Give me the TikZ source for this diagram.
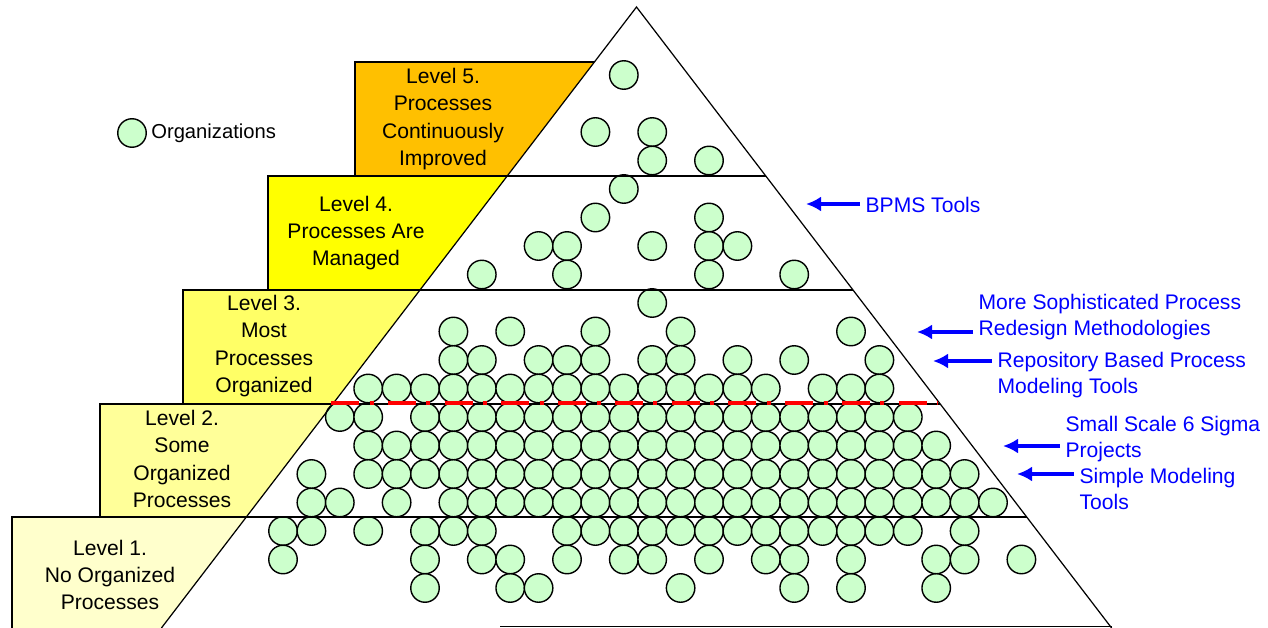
\documentclass[tikz,border=0pt]{standalone}
\usepackage{fontspec}
\setmainfont{Liberation Sans}
\usetikzlibrary{arrows.meta,positioning}
\definecolor{lvlfive}{HTML}{FFC000}
\definecolor{lvlfour}{HTML}{FFFF00}
\definecolor{lvlthree}{HTML}{FFFF66}
\definecolor{lvltwo}{HTML}{FFFF99}
\definecolor{lvlone}{HTML}{FFFFCC}
\definecolor{orgfill}{HTML}{CCFFCC}
\definecolor{toolblue}{HTML}{0000FF}
\definecolor{cutred}{HTML}{FF0000}

\begin{document}
\begin{tikzpicture}[
  x=0.02cm,
  y=-0.02cm,
  leveltext/.style={align=center, inner sep=0pt, font=\fontsize{12}{15.5}\selectfont},
  org/.style={circle, draw=black, fill=orgfill, line width=0.8pt, minimum size=0.57cm, inner sep=0pt},
  divider/.style={draw=black, line width=1pt},
  rim/.style={draw=black, line width=0.7pt},
  cutline/.style={draw=cutred, line width=2.8pt, dash pattern=on 16pt off 6pt on 2.3pt off 8pt},
  toollabel/.style={align=left, inner sep=3pt, text=toolblue, font=\fontsize{12}{15.3}\selectfont},
  toolarrow/.style={-{Latex[length=3mm,width=3mm]}, line width=2.3pt, draw=toolblue}
]
\useasboundingbox (0,0) rectangle (1268,628);

\coordinate (apex) at (636.5,7);
\coordinate (baseleft) at (161.4,628);
\coordinate (baseright) at (1111.6,628);

\fill[lvlfive] (355,62) -- (594.4,62) -- (507.2,176) -- (355,176) -- cycle;
\fill[lvlfour] (268,176) -- (507.2,176) -- (420.0,290) -- (268,290) -- cycle;
\fill[lvlthree] (183,290) -- (420.0,290) -- (332.8,404) -- (183,404) -- cycle;
\fill[lvltwo] (100,404) -- (332.8,404) -- (246.4,517) -- (100,517) -- cycle;
\fill[lvlone] (12,517) -- (246.4,517) -- (baseleft) -- (12,628) -- cycle;

\foreach \r/\cols in {0/{12}, 2/{11,13}, 3/{13,15}, 4/{12}, 5/{11,15},
    6/{9,10,13,15,16}, 7/{7,10,15,18}, 8/{13}, 9/{6,8,11,14,20},
    10/{6,7,9,10,11,13,14,16,18,21}, 11/{3,...,17,19,20,21},
    12/{2,3,5,6,...,22}, 13/{3,...,23}, 14/{1,3,4,...,24},
    15/{1,2,4,6,7,...,25}, 16/{0,1,3,5,6,7,10,11,...,22,24},
    17/{0,5,7,8,10,12,13,15,17,18,20,23,24,26}, 18/{5,8,9,14,18,20,23}}
  \foreach \k in \cols
    \node[org] (org-\r-\k) at (283+28.4*\k, 75+28.5*\r) {};

\draw[divider] (355,176) -- (355,62) -- (594.4,62);
\draw[divider] (268,290) -- (268,176) -- (765.8,176);
\draw[divider] (183,404) -- (183,290) -- (853.0,290);
\draw[divider] (100,517) -- (100,404) -- (940.2,404);
\draw[divider] (12,628) -- (12,517) -- (1026.7,517);
\draw[rim] (baseleft) -- (apex) -- (baseright);
\draw[rim] (500,626.5) -- (1111.6,626.5);
\draw[cutline] (331,403) -- (938,403);

\node[leveltext] (lvl5) at (443,119) {Level 5.\\Processes\\Continuously\\Improved};
\node[leveltext] (lvl4) at (356,233) {Level 4.\\Processes Are\\Managed};
\node[leveltext] (lvl3) at (264,346) {Level 3.\\Most\\Processes\\Organized};
\node[leveltext] (lvl2) at (182,459) {Level 2.\\Some\\Organized\\Processes};
\node[leveltext] (lvl1) at (110,575) {Level 1.\\No Organized\\Processes};

\node[org] (legendorg) at (132,133) {};
\node[right=0.08cm of legendorg, inner sep=0pt, font=\fontsize{11.5}{14}\selectfont] (legendtext) {Organizations};

\node[toollabel, anchor=west] (bpms) at (860,205) {BPMS Tools};
\node[toollabel, anchor=west] (redesign) at (973,317) {More Sophisticated Process\\Redesign Methodologies};
\node[toollabel, anchor=west] (repo) at (992,375) {Repository Based Process\\Modeling Tools};
\node[toollabel, anchor=west] (sigma) at (1060,439) {Small Scale 6 Sigma\\Projects};
\node[toollabel, anchor=west] (simple) at (1074,489) {Simple Modeling\\Tools};

\coordinate (bpmstip) at (806,204);
\coordinate (redesigntip) at (917,332);
\coordinate (repotip) at (933,361);
\coordinate (sigmatip) at (1003,446);
\coordinate (simpletip) at (1017,474);

\draw[toolarrow] (bpms.west |- bpmstip) -- (bpmstip);
\draw[toolarrow] (redesign.west |- redesigntip) -- (redesigntip);
\draw[toolarrow] (repo.west |- repotip) -- (repotip);
\draw[toolarrow] (sigma.west |- sigmatip) -- (sigmatip);
\draw[toolarrow] (simple.west |- simpletip) -- (simpletip);
\end{tikzpicture}
\end{document}
